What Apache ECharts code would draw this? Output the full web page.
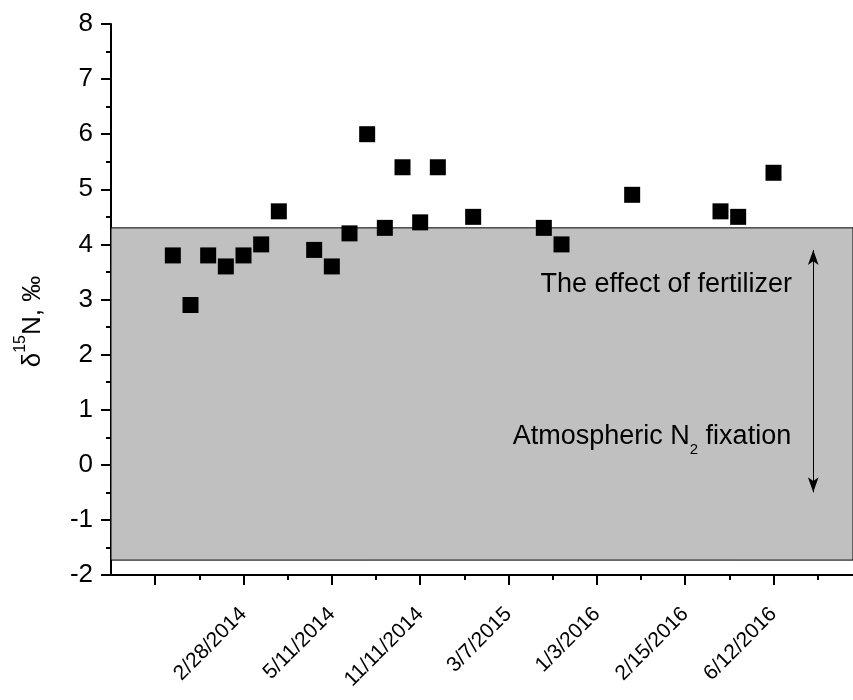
<!DOCTYPE html>
<html lang="en">
<head>
<meta charset="UTF-8">
<title>delta 15N</title>
<script src="https://cdn.jsdelivr.net/npm/echarts@6/dist/echarts.min.js"></script>
<style>
    html, body { margin: 0; padding: 0; background: #fff; }
    #main { width: 853px; height: 700px; }
</style>
</head>
<body>
<div id="main"></div>
<script>
    // sample position on the (index) time axis and its d15N value
    var sampleX = [6, 7, 8, 9, 10, 11, 12, 14, 15, 16, 17, 18, 19, 20, 21, 23, 27, 28, 32, 37, 38, 40];
    var sampleY = [3.8, 2.9, 3.8, 3.6, 3.8, 4.0, 4.6, 3.9, 3.6, 4.2, 6.0, 4.3, 5.4, 4.4, 5.4, 4.5, 4.3, 4.0, 4.9, 4.6, 4.5, 5.3];

    // x axis ticks / labels
    var dateLabels = ['2/28/2014', '5/11/2014', '11/11/2014', '3/7/2015', '1/3/2016', '2/15/2016', '6/12/2016'];
    var labelTicks = [10, 15, 20, 25, 30, 35, 40];
    var majorTicks = [5, 10, 15, 20, 25, 30, 35, 40];
    var minorTicks = [7.5, 12.5, 17.5, 22.5, 27.5, 32.5, 37.5, 42.5];

    // gray band and the double arrow
    var band = [4.3, -1.73];
    var arrowX = 42.25;
    var arrowY = [3.9, -0.5];

    // annotation texts: [x, y] of the right end
    var fertText = 'The effect of fertilizer';
    var fertPos = [41.05, 3.28];
    var atmoText = '{t|Atmospheric N}{sub|2}{t| fixation}';
    var atmoPos = [41.0, 0.52];

    var FONT = 'Liberation Sans, Arial, sans-serif';
    var points = sampleX.map(function (x, i) { return [x, sampleY[i]]; });

    // one extra x axis per tick set (long ticks / short ticks)
    function tickAxis(values, len) {
        return {
            type: 'value',
            min: 2.5,
            max: 44.5,
            position: 'bottom',
            offset: 0,
            splitLine: { show: false },
            axisLine: { show: false, onZero: false },
            axisTick: { show: true, customValues: values, length: len, lineStyle: { color: '#000', width: 2 } },
            axisLabel: { show: false }
        };
    }

    var myChart = echarts.init(document.getElementById('main'));
    var option = {
        animation: false,
        grid: { left: 111, right: 0, top: 24, bottom: 125, containLabel: false },
        xAxis: [
            {
                type: 'value',
                min: 2.5,
                max: 44.5,
                position: 'bottom',
                splitLine: { show: false },
                axisLine: { show: true, onZero: false, lineStyle: { color: '#000', width: 2 } },
                axisTick: { show: false },
                axisLabel: {
                    customValues: labelTicks,
                    rotate: 45,
                    margin: 36,
                    fontSize: 21,
                    color: '#000',
                    fontFamily: FONT,
                    formatter: function (v) {
                        var i = labelTicks.indexOf(v);
                        return i < 0 ? '' : dateLabels[i];
                    }
                }
            },
            tickAxis(majorTicks, 10),
            tickAxis(minorTicks, 5)
        ],
        yAxis: {
            type: 'value',
            min: -2,
            max: 8,
            interval: 1,
            name: '{t|δ}{sup|15}{t|N, ‰}',
            nameLocation: 'middle',
            nameGap: 58,
            nameTextStyle: {
                padding: [0, 44, 0, 0],
                rich: {
                    t: { fontSize: 26, fontFamily: FONT, color: '#000' },
                    sup: { fontSize: 16, fontFamily: FONT, color: '#000', padding: [0, 0, 24, 0] }
                }
            },
            splitLine: { show: false },
            axisLine: { show: true, onZero: false, lineStyle: { color: '#000', width: 2 } },
            axisTick: { show: true, length: 10, lineStyle: { color: '#000', width: 2 } },
            minorTick: { show: true, splitNumber: 2, length: 5, lineStyle: { color: '#000', width: 2 } },
            axisLabel: { margin: 18, fontSize: 26, color: '#000', fontFamily: FONT }
        },
        series: [
            {
                type: 'scatter',
                symbol: 'rect',
                symbolSize: 16,
                itemStyle: { color: '#000', opacity: 1 },
                data: points,
                z: 5,
                markArea: {
                    silent: true,
                    itemStyle: { color: '#c0c0c0', borderColor: '#000', borderWidth: 1 },
                    data: [[{ yAxis: band[0] }, { yAxis: band[1] }]]
                },
                markLine: {
                    silent: true,
                    symbol: ['arrow', 'arrow'],
                    symbolSize: [8, 15],
                    label: { show: false },
                    lineStyle: { color: '#000', width: 1, type: 'solid' },
                    data: [[{ coord: [arrowX, arrowY[0]] }, { coord: [arrowX, arrowY[1]] }]]
                },
                markPoint: {
                    silent: true,
                    symbolSize: 0,
                    label: {
                        show: true,
                        position: 'left',
                        distance: 0,
                        color: '#000',
                        fontFamily: FONT,
                        fontSize: 27,
                        rich: {
                            t: { fontSize: 27, fontFamily: FONT, color: '#000' },
                            sub: { fontSize: 15, fontFamily: FONT, color: '#000', padding: [28, 0, 0, 0] }
                        }
                    },
                    data: [
                        { coord: fertPos, label: { formatter: fertText } },
                        { coord: atmoPos, label: { formatter: atmoText } }
                    ]
                }
            }
        ]
    };
    myChart.setOption(option);
</script>
</body>
</html>
